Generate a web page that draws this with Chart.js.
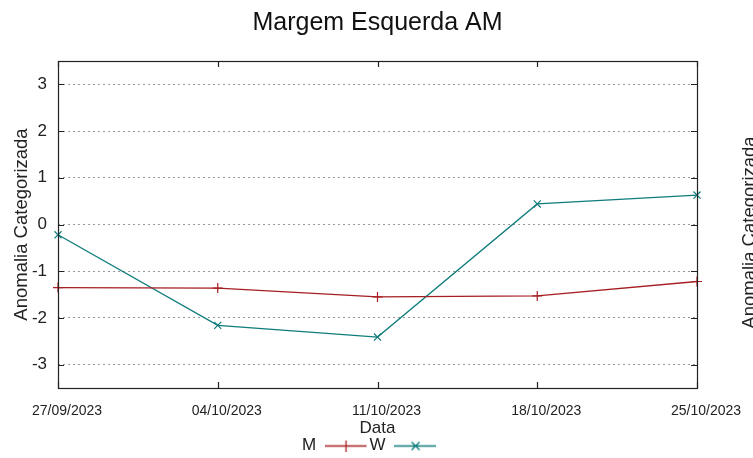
<!DOCTYPE html>
<html><head><meta charset="utf-8">
<script src="https://cdn.jsdelivr.net/npm/chart.js@4"></script>
<style>html,body{margin:0;padding:0;background:#fff;overflow:hidden}#wrap{width:753px;height:458px;position:relative}</style>
</head><body><div id="wrap"><canvas id="c" width="753" height="458"></canvas></div>
<script>
const dates = ['27/09/2023','04/10/2023','11/10/2023','18/10/2023','25/10/2023'];
const seriesM = [-1.35,-1.36,-1.55,-1.53,-1.22];
const seriesW = [-0.22,-2.16,-2.41,0.44,0.63];
const yTicks = [-3,-2,-1,0,1,2,3];
const seriesNames = ['M','W'];
const chartTitle = 'Margem Esquerda AM';
const xTitle = 'Data';
const yTitle = 'Anomalia Categorizada';

const colM = '#a61e22';
const colW = '#0e7c7b';
const FONT = '"Liberation Sans", Arial, sans-serif';

function sample(color, style){
  const c = document.createElement('canvas');
  c.width = 45; c.height = 12;
  const g = c.getContext('2d');
  g.strokeStyle = color; g.lineWidth = 1.3;
  g.beginPath(); g.moveTo(0,6.5); g.lineTo(42,6.5);
  if(style === 'cross'){ g.moveTo(21.5,1); g.lineTo(21.5,12); }
  else { g.moveTo(17.5,2.5); g.lineTo(25.5,10.5); g.moveTo(25.5,2.5); g.lineTo(17.5,10.5); }
  g.stroke();
  return c;
}

const framePlugin = {
  id: 'frame',
  afterDraw(chart){
    const {ctx, chartArea:a, scales:{x, y}} = chart;
    ctx.save();
    ctx.strokeStyle = '#222'; ctx.lineWidth = 1.2;
    ctx.strokeRect(Math.round(a.left)+0.5, Math.round(a.top)+0.5, Math.round(a.right-a.left), Math.round(a.bottom-a.top));
    ctx.beginPath();
    x.ticks.forEach((t,i)=>{ const px = Math.round(x.getPixelForTick(i))+0.5;
      ctx.moveTo(px,a.bottom); ctx.lineTo(px,a.bottom-6); ctx.moveTo(px,a.top); ctx.lineTo(px,a.top+6); });
    y.ticks.forEach(t=>{ const py = Math.round(y.getPixelForValue(t.value))+0.5;
      ctx.moveTo(a.left,py); ctx.lineTo(a.left+6,py); ctx.moveTo(a.right,py); ctx.lineTo(a.right-6,py); });
    ctx.stroke();
    ctx.translate(750, (a.top+a.bottom)/2 + 8);
    ctx.rotate(-Math.PI/2);
    ctx.font = '18.5px ' + FONT; ctx.fillStyle = '#222';
    ctx.textAlign = 'center'; ctx.textBaseline = 'middle';
    ctx.fillText(yTitle, 0, 0);
    ctx.restore();
  }
};

new Chart(document.getElementById('c'), {
  type: 'line',
  data: {
    labels: dates,
    datasets: [
      {label: seriesNames[0], data: seriesM, borderColor: colM, backgroundColor: colM, borderWidth: 1.3,
       pointStyle: 'cross', pointRadius: 5, pointBorderWidth: 1.2, tension: 0, clip: false, fill: false},
      {label: seriesNames[1], data: seriesW, borderColor: colW, backgroundColor: colW, borderWidth: 1.3,
       pointStyle: 'crossRot', pointRadius: 5, pointBorderWidth: 1.2, tension: 0, clip: false, fill: false}
    ]
  },
  options: {
    responsive: false, animation: false, devicePixelRatio: 1,
    layout: {padding: {left: 0, right: 12, top: 0, bottom: -6}},
    plugins: {
      title: {display: true, fullSize: false, text: chartTitle, color: '#111', font: {family: FONT, size: 25, weight: 'normal', lineHeight: 1.2}, padding: {top: 8, bottom: 23}},
      tooltip: {enabled: false},
      legend: {
        position: 'bottom', align: 'center', rtl: true,
        labels: {
          usePointStyle: true, pointStyleWidth: 45, boxHeight: 12, padding: 0,
          color: '#222', font: {family: FONT, size: 17},
          generateLabels(chart){
            const ds = chart.data.datasets;
            return [
              {text: ds[1].label, pointStyle: sample(colW,'x'), fillStyle: colW, strokeStyle: colW, lineWidth: 0, fontColor: '#222', datasetIndex: 1},
              {text: ds[0].label, pointStyle: sample(colM,'cross'), fillStyle: colM, strokeStyle: colM, lineWidth: 0, fontColor: '#222', datasetIndex: 0}
            ];
          }
        }
      }
    },
    scales: {
      x: {
        type: 'category', offset: false,
        grid: {display: false, drawTicks: false},
        border: {display: false},
        ticks: {color: '#222', font: {family: FONT, size: 14, lineHeight: 1}, padding: 16, labelOffset: 9, maxRotation: 0, autoSkip: false},
        title: {display: true, text: xTitle, color: '#222', font: {family: FONT, size: 17, lineHeight: 1}, padding: {top: 0, bottom: 0}},
        afterFit(s){ s.height = 49; }
      },
      y: {
        min: -3.5, max: 3.5,
        afterBuildTicks(scale){ scale.ticks = yTicks.map(v => ({value: v})); },
        afterFit(s){ s.width = 58; },
        grid: {color: '#9a9a9a', lineWidth: 1, drawTicks: false},
        border: {display: false, dash: [2,3]},
        ticks: {color: '#222', font: {family: FONT, size: 17}, padding: 11},
        title: {display: true, text: yTitle, color: '#222', font: {family: FONT, size: 18.5, lineHeight: 1.2}, padding: {top: 11, bottom: 0}}
      },
      y2: {
        position: 'right', min: -3.5, max: 3.5,
        afterFit(s){ s.width = 44; },
        grid: {display: false, drawTicks: false},
        border: {display: false},
        ticks: {display: false},
        title: {display: false}
      }
    }
  },
  plugins: [framePlugin]
});
</script></body></html>
